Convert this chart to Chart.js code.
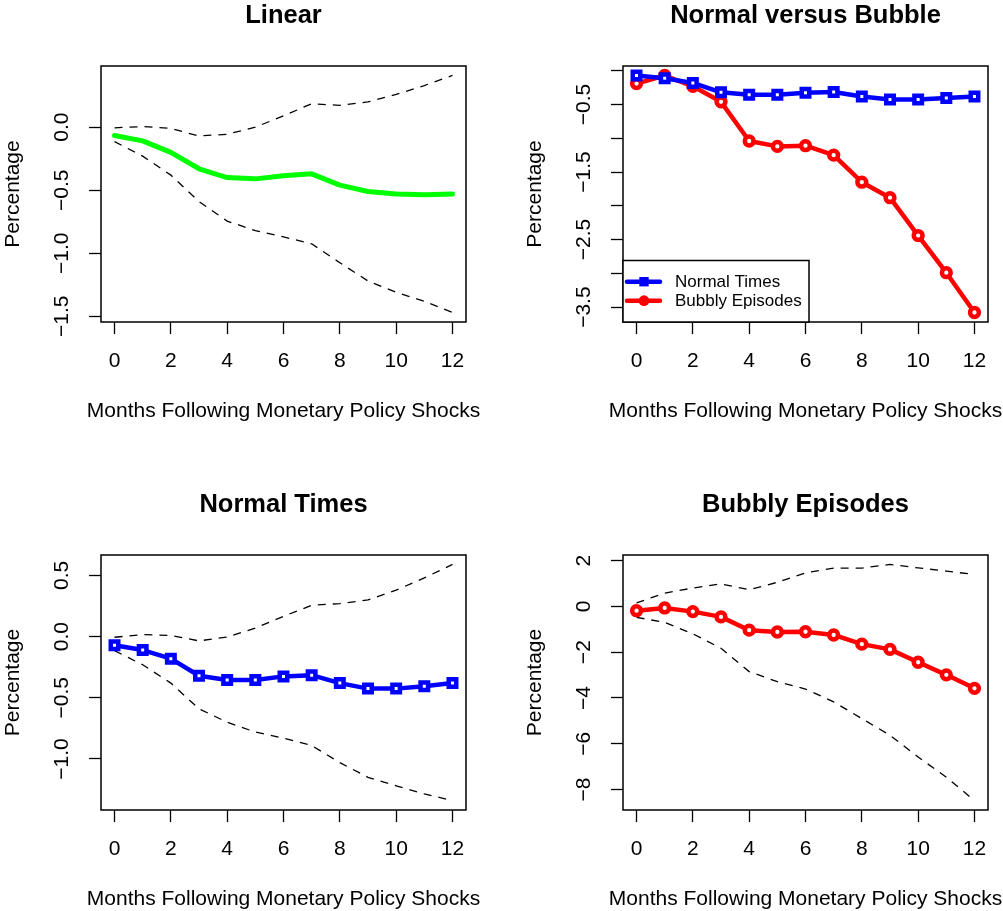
<!DOCTYPE html>
<html>
<head>
<meta charset="utf-8">
<script src="https://cdn.jsdelivr.net/npm/chart.js@4/dist/chart.umd.min.js"></script>
<style>
  html, body { margin: 0; padding: 0; background: #ffffff; }
  #wrap { position: relative; width: 1003px; height: 911px; overflow: hidden; background: #ffffff; }
  #wrap canvas { position: absolute; }
</style>
</head>
<body>
<div id="wrap">
  <canvas id="linear"></canvas>
  <canvas id="compare"></canvas>
  <canvas id="normal"></canvas>
  <canvas id="bubbly"></canvas>
</div>
<script>
// Impulse responses (percent) for months 0..12 after a monetary policy shock
const months = [0, 1, 2, 3, 4, 5, 6, 7, 8, 9, 10, 11, 12];
const xTicks = [0, 2, 4, 6, 8, 10, 12];

const linearResponse = [-0.066, -0.109, -0.20, -0.33, -0.40, -0.41, -0.385, -0.37, -0.46, -0.51, -0.53, -0.535, -0.53];
const linearUpper    = [-0.005, 0.005, -0.01, -0.07, -0.056, 0.0, 0.09, 0.186, 0.173, 0.20, 0.26, 0.33, 0.41];
const linearLower    = [-0.114, -0.23, -0.38, -0.59, -0.745, -0.82, -0.87, -0.925, -1.075, -1.22, -1.31, -1.38, -1.47];

const normalTimes = [-0.07, -0.11, -0.18, -0.32, -0.355, -0.355, -0.325, -0.315, -0.38, -0.425, -0.425, -0.405, -0.38];
const normalUpper = [-0.005, 0.016, 0.01, -0.035, -0.003, 0.07, 0.166, 0.256, 0.27, 0.30, 0.38, 0.48, 0.59];
const normalLower = [-0.115, -0.23, -0.38, -0.59, -0.70, -0.78, -0.83, -0.89, -1.03, -1.15, -1.22, -1.285, -1.34];

const bubblyEpisodes = [-0.19, -0.07, -0.23, -0.46, -1.04, -1.12, -1.11, -1.25, -1.65, -1.88, -2.44, -2.99, -3.58];
const bubblyUpper    = [0.15, 0.58, 0.80, 0.98, 0.73, 1.05, 1.46, 1.67, 1.67, 1.83, 1.68, 1.54, 1.39];
const bubblyLower    = [-0.48, -0.70, -1.20, -1.83, -2.85, -3.29, -3.61, -4.17, -4.90, -5.63, -6.58, -7.46, -8.48];

// Y-axis ticks and the labels printed at them
const linearYTicks  = [-1.5, -1.0, -0.5, 0.0];
const linearYLabels = ['\u22121.5', '\u22121.0', '\u22120.5', '0.0'];
const compareYTicks  = [-3.5, -3.0, -2.5, -2.0, -1.5, -1.0, -0.5, 0.0];
const compareYLabels = ['\u22123.5', '', '\u22122.5', '', '\u22121.5', '', '\u22120.5', ''];
const normalYTicks  = [-1.0, -0.5, 0.0, 0.5];
const normalYLabels = ['\u22121.0', '\u22120.5', '0.0', '0.5'];
const bubblyYTicks  = [-8, -6, -4, -2, 0, 2];
const bubblyYLabels = ['\u22128', '\u22126', '\u22124', '\u22122', '0', '2'];

const xAxisTitle = 'Months Following Monetary Policy Shocks';
const yAxisTitle = 'Percentage';

const FONT = '"Liberation Sans", Arial, Helvetica, sans-serif';
const AXIS_SIZE = 21;
const TITLE_SIZE = 25.5;
const TICK_LEN = 12;

function toPoints(values) {
  return months.map((m, i) => ({ x: m, y: values[i] }));
}

// Axis limits padded by 4% of the data span on each side
function paddedRange(values) {
  const lo = Math.min(...values), hi = Math.max(...values);
  const pad = (hi - lo) * 0.04;
  return [lo - pad, hi + pad];
}

function mainSeries(label, values, color, pointStyle, width) {
  return {
    label: label,
    data: toPoints(values),
    borderColor: color,
    backgroundColor: color,
    borderWidth: width,
    borderJoinStyle: 'round',
    borderCapStyle: 'round',
    tension: 0,
    pointStyle: pointStyle || 'circle',
    pointRadius: pointStyle ? (pointStyle === 'rect' ? 5.3 : 4.4) : 0,
    pointBorderWidth: 4.5,
    pointBackgroundColor: '#ffffff',
    pointBorderColor: color,
    showLine: true
  };
}

function bandSeries(label, values) {
  return {
    label: label,
    data: toPoints(values),
    borderColor: '#000000',
    borderWidth: 1.3,
    borderDash: [8, 7],
    pointRadius: 0,
    tension: 0,
    fill: false
  };
}

// Full rectangle around the plotting region, plus the x-axis caption
// (drawn here so it may run wider than the plotting region)
const plotFrame = {
  id: 'plotFrame',
  afterDraw(chart) {
    const a = chart.chartArea, ctx = chart.ctx;
    ctx.save();
    ctx.strokeStyle = '#000000';
    ctx.lineWidth = 1.5;
    ctx.strokeRect(a.left, a.top, a.right - a.left, a.bottom - a.top);
    ctx.fillStyle = '#000000';
    ctx.font = AXIS_SIZE + 'px ' + FONT;
    ctx.textAlign = 'center';
    ctx.textBaseline = 'middle';
    ctx.fillText(xAxisTitle, (a.left + a.right) / 2, a.bottom + 89);
    ctx.restore();
  }
};

// Key placed in the lower-left corner of the plotting region
const insetKey = {
  id: 'insetKey',
  afterDraw(chart) {
    const a = chart.chartArea, ctx = chart.ctx;
    const w = 186, h = 61.5;
    const x0 = a.left, y0 = a.bottom - h;
    ctx.save();
    ctx.fillStyle = '#ffffff';
    ctx.fillRect(x0, y0, w, h);
    ctx.strokeStyle = '#000000';
    ctx.lineWidth = 1.5;
    ctx.strokeRect(x0, y0, w, h);
    ctx.font = '17px ' + FONT;
    ctx.textAlign = 'left';
    ctx.textBaseline = 'middle';
    chart.data.datasets.forEach((ds, i) => {
      const cy = y0 + 21.2 + i * 19;
      ctx.strokeStyle = ds.borderColor;
      ctx.lineWidth = 4.5;
      ctx.lineCap = 'round';
      ctx.beginPath();
      ctx.moveTo(x0 + 4, cy);
      ctx.lineTo(x0 + 37, cy);
      ctx.stroke();
      ctx.fillStyle = ds.borderColor;
      if (ds.pointStyle === 'rect') {
        ctx.fillRect(x0 + 21 - 4.7, cy - 4.7, 9.4, 9.4);
      } else {
        ctx.beginPath();
        ctx.arc(x0 + 21, cy, 5.4, 0, Math.PI * 2);
        ctx.fill();
      }
      ctx.fillStyle = '#000000';
      ctx.fillText(ds.label, x0 + 52, cy + 1);
    });
    ctx.restore();
  }
};

function textWidth(text, size) {
  const c = document.createElement('canvas').getContext('2d');
  c.font = size + 'px ' + FONT;
  return c.measureText(text).width;
}

function makePanel(id, frame, box, title, datasets, yTicks, yLabels, yRange, extra) {
  const canvas = document.getElementById(id);
  canvas.width = frame.w;
  canvas.height = frame.h;
  canvas.style.left = frame.x + 'px';
  canvas.style.top = frame.y + 'px';

  const L = box.l - frame.x, R = box.r - frame.x, T = box.t - frame.y, B = box.b - frame.y;
  const widest = Math.max(...yLabels.map(s => textWidth(s, AXIS_SIZE)));
  const axisLH = AXIS_SIZE * 1.2;
  const titleMid = 16;

  const tickGrid = {
    display: true,
    drawOnChartArea: false,
    drawTicks: true,
    tickLength: TICK_LEN,
    tickColor: '#000000',
    tickWidth: 1.3
  };

  return new Chart(canvas, {
    type: 'line',
    data: { datasets: datasets },
    options: {
      responsive: false,
      animation: false,
      devicePixelRatio: 1,
      events: [],
      layout: { padding: { top: 0, right: frame.w - R, bottom: 0, left: 0 } },
      plugins: {
        legend: { display: false },
        tooltip: { enabled: false },
        title: {
          display: true,
          text: title,
          fullSize: false,
          color: '#000000',
          font: { family: FONT, size: TITLE_SIZE, weight: 'bold', lineHeight: 1 },
          padding: { top: titleMid - TITLE_SIZE / 2, bottom: T - titleMid - TITLE_SIZE / 2 }
        }
      },
      scales: {
        x: {
          type: 'linear',
          position: 'bottom',
          min: months[0] - 0.04 * (months[months.length - 1] - months[0]),
          max: months[months.length - 1] + 0.04 * (months[months.length - 1] - months[0]),
          afterBuildTicks: s => { s.ticks = xTicks.map(v => ({ value: v })); },
          afterFit: s => { s.height = frame.h - B; },
          grid: tickGrid,
          border: { display: false },
          ticks: {
            color: '#000000',
            font: { family: FONT, size: AXIS_SIZE },
            padding: 39 - TICK_LEN - axisLH / 2,
            maxRotation: 0,
            minRotation: 0,
            autoSkip: false,
            callback: v => String(v)
          },
          title: { display: false }
        },
        y: {
          type: 'linear',
          position: 'left',
          min: yRange[0],
          max: yRange[1],
          afterBuildTicks: s => { s.ticks = yTicks.map(v => ({ value: v })); },
          afterFit: s => { s.width = L; },
          grid: tickGrid,
          border: { display: false },
          ticks: {
            color: '#000000',
            font: { family: FONT, size: AXIS_SIZE },
            minRotation: 90,
            maxRotation: 90,
            crossAlign: 'center',
            padding: 38.5 - TICK_LEN - widest / 2,
            autoSkip: false,
            callback: v => { const k = yTicks.findIndex(t => Math.abs(t - v) < 1e-9); return k >= 0 ? yLabels[k] : ''; }
          },
          title: {
            display: true,
            text: yAxisTitle,
            color: '#000000',
            font: { family: FONT, size: AXIS_SIZE, lineHeight: 1.2 },
            padding: { top: (L - 88) - axisLH / 2, bottom: 0 }
          }
        }
      }
    },
    plugins: [plotFrame].concat(extra || [])
  });
}

makePanel('linear',
  { x: 0, y: 0, w: 501, h: 489 },
  { l: 101, r: 466, t: 66, b: 322 },
  'Linear',
  [
    mainSeries('Linear', linearResponse, '#00ff00', null, 5),
    bandSeries('Upper band', linearUpper),
    bandSeries('Lower band', linearLower)
  ],
  linearYTicks, linearYLabels,
  paddedRange(linearResponse.concat(linearUpper, linearLower)));

makePanel('compare',
  { x: 501, y: 0, w: 502, h: 489 },
  { l: 623, r: 988, t: 66, b: 322 },
  'Normal versus Bubble',
  [
    mainSeries('Normal Times', normalTimes, '#0000ff', 'rect', 4.5),
    mainSeries('Bubbly Episodes', bubblyEpisodes, '#ff0000', 'circle', 4.5)
  ],
  compareYTicks, compareYLabels,
  paddedRange(normalTimes.concat(bubblyEpisodes)),
  [insetKey]);

makePanel('normal',
  { x: 0, y: 489, w: 501, h: 422 },
  { l: 101, r: 466, t: 555, b: 810 },
  'Normal Times',
  [
    mainSeries('Normal Times', normalTimes, '#0000ff', 'rect', 4.5),
    bandSeries('Upper band', normalUpper),
    bandSeries('Lower band', normalLower)
  ],
  normalYTicks, normalYLabels,
  paddedRange(normalTimes.concat(normalUpper, normalLower)));

makePanel('bubbly',
  { x: 501, y: 489, w: 502, h: 422 },
  { l: 623, r: 988, t: 555, b: 810 },
  'Bubbly Episodes',
  [
    mainSeries('Bubbly Episodes', bubblyEpisodes, '#ff0000', 'circle', 4.5),
    bandSeries('Upper band', bubblyUpper),
    bandSeries('Lower band', bubblyLower)
  ],
  bubblyYTicks, bubblyYLabels,
  paddedRange(bubblyEpisodes.concat(bubblyUpper, bubblyLower)));
</script>
</body>
</html>
